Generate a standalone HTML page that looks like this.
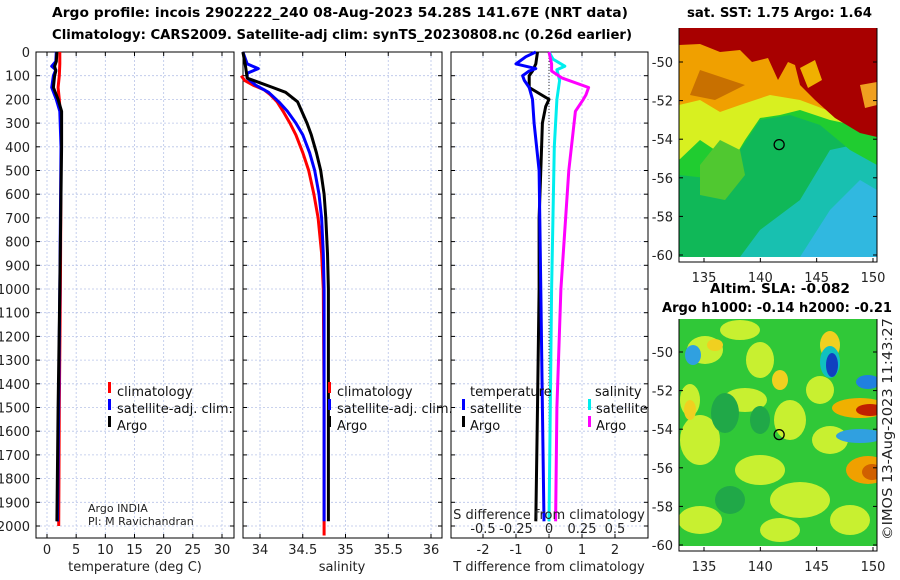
<!DOCTYPE html>
<html><head><meta charset="utf-8">
<style>
body{margin:0;background:#fff;}
svg{display:block;font-family:"DejaVu Sans","Liberation Sans",sans-serif;}
.tk{font-size:13px;fill:#222;}
.ttl{font-size:13px;font-weight:bold;fill:#000;}
.lg{font-size:13px;fill:#111;}
</style></head>
<body>
<svg id="fig" width="900" height="580" viewBox="0 0 900 580" xmlns="http://www.w3.org/2000/svg">
<text class="ttl" x="52" y="17" textLength="576" lengthAdjust="spacingAndGlyphs">Argo profile: incois 2902222_240 08-Aug-2023 54.28S 141.67E (NRT data)</text>
<text class="ttl" x="52" y="39" textLength="580" lengthAdjust="spacingAndGlyphs">Climatology: CARS2009. Satellite-adj clim: synTS_20230808.nc (0.26d earlier)</text>
<text class="ttl" x="687" y="17" textLength="185" lengthAdjust="spacingAndGlyphs">sat. SST: 1.75 Argo: 1.64</text>
<text class="ttl" x="710" y="293" textLength="140" lengthAdjust="spacingAndGlyphs">Altim. SLA: -0.082</text>
<text class="ttl" x="662" y="312" textLength="230" lengthAdjust="spacingAndGlyphs">Argo h1000: -0.14 h2000: -0.21</text>
<text class="tk" transform="translate(892,540) rotate(-90)" textLength="222" lengthAdjust="spacingAndGlyphs">©IMOS 13-Aug-2023 11:43:27</text>
<g id="maps"></g>
<g id="panels"></g>
</svg>
<script>
// ---- data ----
const depthTicks=[0,100,200,300,400,500,600,700,800,900,1000,1100,1200,1300,1400,1500,1600,1700,1800,1900,2000];
const tempTicks=[0,5,10,15,20,25,30];
const salTicks=[34,34.5,35,35.5,36];
const salTickLabels=["34","34.5","35","35.5","36"];
const tdTicks=[-2,-1,0,1,2];
const sdTicks=[-0.5,-0.25,0,0.25,0.5];
const sdTickLabels=["-0.5","-0.25","0","0.25","0.5"];

const tClimD=[0,50,100,150,200,300,500,1000,1500,2000];
const tClimV=[2.2,2.2,2.1,1.9,2.1,2.4,2.4,2.3,2.1,2.0];
const tSatD=[0,40,60,75,100,150,200,250,400,1000,1500,1980];
const tSatV=[1.6,1.5,0.8,1.5,1.1,0.8,1.6,2.2,2.4,2.2,2.0,1.8];
const tArgoD=[0,40,60,80,100,150,200,250,400,1000,1500,1980];
const tArgoV=[1.7,1.6,1.3,1.5,1.3,1.1,1.9,2.5,2.5,2.2,1.9,1.7];

const sClimD=[100,120,140,160,180,210,250,300,350,425,500,600,700,850,1000,1500,2040];
const sClimV=[33.78,33.82,33.92,34.05,34.12,34.2,34.27,34.35,34.42,34.5,34.57,34.63,34.68,34.72,34.74,34.75,34.75];
const sSatD=[0,50,70,90,110,140,170,210,250,300,350,425,500,600,700,850,1000,1500,1980];
const sSatV=[33.8,33.85,33.98,33.85,33.85,33.95,34.1,34.22,34.32,34.42,34.5,34.58,34.64,34.69,34.72,34.74,34.75,34.75,34.75];
const sArgoD=[0,60,110,130,150,170,210,260,300,350,425,500,600,700,850,1000,1500,1980];
const sArgoV=[33.8,33.83,33.85,34.0,34.15,34.3,34.44,34.5,34.55,34.6,34.66,34.71,34.75,34.77,34.79,34.8,34.8,34.8];

const dtSatD=[0,20,50,70,80,100,120,150,200,300,500,1000,1500,1980];
const dtSatV=[-0.4,-0.7,-1.0,-0.4,-0.6,-0.8,-0.75,-0.6,-0.5,-0.45,-0.3,-0.25,-0.2,-0.15];
const dtArgoD=[0,50,80,100,150,200,230,300,500,700,1000,1500,1980];
const dtArgoV=[-0.35,-0.4,-0.5,-0.6,-0.6,0.0,-0.1,-0.2,-0.25,-0.3,-0.3,-0.35,-0.4];
const dsSatD=[0,30,60,75,120,200,400,1000,1500,1980];
const dsSatV=[0.0,0.03,0.12,0.06,0.08,0.06,0.04,0.02,0.01,0.0];
const dsArgoD=[0,50,80,110,150,180,200,250,500,1000,1500,1980];
const dsArgoV=[0.0,0.02,0.02,0.1,0.3,0.28,0.26,0.2,0.15,0.09,0.06,0.05];

const mapLonTicks=[135,140,145,150];
const sstLatTicks=[-50,-52,-54,-56,-58,-60];
const slaLatTicks=[-50,-52,-54,-56,-58,-60];
const argoLon=141.67, argoLat=-54.28;

// ---- helpers ----
const NS="http://www.w3.org/2000/svg";
const panels=document.getElementById('panels');
const mapsG=document.getElementById('maps');
function mk(tag,attrs,parent){const e=document.createElementNS(NS,tag);for(const k in attrs)e.setAttribute(k,attrs[k]);(parent||panels).appendChild(e);return e;}
const top0=52,bot=538;
const yD=d=>top0+d*(526-top0)/2000;

function line(xs,ds,fx,color,name,parent){
  const pts=xs.map((v,i)=>fx(v).toFixed(1)+","+yD(ds[i]).toFixed(1)).join(" ");
  const p=mk('polyline',{points:pts,fill:'none',stroke:color,'stroke-width':3,'stroke-linejoin':'round'},parent);
  
  
}

function panel(x0,x1,ticks,labels,fx,name,showDepth){
  const g=mk('g',{});
  
  
  depthTicks.forEach(d=>{mk('line',{x1:x0,x2:x1,y1:yD(d),y2:yD(d),stroke:'#b8c4e8','stroke-width':0.8,'stroke-dasharray':'2,2'},g);
    mk('line',{x1:x0,x2:x0+4,y1:yD(d),y2:yD(d),stroke:'#000'},g);mk('line',{x1:x1-4,x2:x1,y1:yD(d),y2:yD(d),stroke:'#000'},g);
    if(showDepth){const t=mk('text',{x:x0-6,y:yD(d)+5,'text-anchor':'end',class:'tk'},g);t.textContent=d;
      
      }
  });
  ticks.forEach((v,i)=>{const x=fx(v);mk('line',{x1:x,x2:x,y1:top0,y2:bot,stroke:'#b8c4e8','stroke-width':0.8,'stroke-dasharray':'2,2'},g);
    mk('line',{x1:x,x2:x,y1:bot,y2:bot-4,stroke:'#000'},g);mk('line',{x1:x,x2:x,y1:top0,y2:top0+4,stroke:'#000'},g);
    if(labels){const t=mk('text',{x:x,y:bot+16,'text-anchor':'middle',class:'tk'},g);t.textContent=labels[i];
      
      }
  });
  mk('rect',{x:x0,y:top0,width:x1-x0,height:bot-top0,fill:'none',stroke:'#000','stroke-width':1},g);
  return g;
}
function txt(x,y,s,name,cls,anchor,parent){const t=mk('text',{x:x,y:y,class:cls||'tk','text-anchor':anchor||'start'},parent);t.textContent=s;
  
  return t;}
function lgBar(x,y,c,parent){mk('rect',{x:x,y:y-10,width:3,height:11,fill:c},parent);}

// ---- panel 1: temperature ----
const fT=v=>47+v*(222-47)/30;
const g1=panel(36,234,tempTicks,tempTicks.map(String),fT,'temperature-panel',true);
line(tClimV,tClimD,fT,'#f00','temp-climatology-line',g1);
line(tSatV,tSatD,fT,'#00f','temp-satellite-line',g1);
line(tArgoV,tArgoD,fT,'#000','temp-argo-line',g1);
txt(135,571,'temperature (deg C)','temperature-axis-title','tk','middle',g1);
lgBar(108,392,'#f00',g1);txt(117,396,'climatology','legend-climatology','lg','start',g1);
lgBar(108,409,'#00f',g1);txt(117,413,'satellite-adj. clim.','legend-satellite','lg','start',g1);
lgBar(108,426,'#000',g1);txt(117,430,'Argo','legend-argo','lg','start',g1);
txt(88,512,'Argo INDIA','argo-india-note','tk','start',g1).setAttribute('style','font-size:11px');
txt(88,525,'PI: M Ravichandran','pi-note','tk','start',g1).setAttribute('style','font-size:11px');

// ---- panel 2: salinity ----
const fS=v=>260+(v-34)*(431-260)/2;
const g2=panel(243,442,salTicks,salTickLabels,fS,'salinity-panel',false);
line(sClimV,sClimD,fS,'#f00','sal-climatology-line',g2);
line(sSatV,sSatD,fS,'#00f','sal-satellite-line',g2);
line(sArgoV,sArgoD,fS,'#000','sal-argo-line',g2);
txt(342,571,'salinity','salinity-axis-title','tk','middle',g2);
lgBar(328,392,'#f00',g2);txt(337,396,'climatology','legend-climatology','lg','start',g2);
lgBar(328,409,'#00f',g2);txt(337,413,'satellite-adj. clim.','legend-satellite','lg','start',g2);
lgBar(328,426,'#000',g2);txt(337,430,'Argo','legend-argo','lg','start',g2);

// ---- panel 3: differences ----
const fDT=v=>549+v*33;
const fDS=v=>549+v*4*33;
const g3=panel(451,648,tdTicks,tdTicks.map(String),fDT,'difference-panel',false);
mk('line',{x1:fDT(0),x2:fDT(0),y1:top0,y2:bot,stroke:'#333','stroke-dasharray':'1,2'},g3);
line(dtArgoV,dtArgoD,fDT,'#000','tdiff-argo-line',g3);
line(dtSatV,dtSatD,fDT,'#00f','tdiff-satellite-line',g3);
line(dsSatV,dsSatD,fDS,'#0ee','sdiff-satellite-line',g3);
line(dsArgoV,dsArgoD,fDS,'#f0f','sdiff-argo-line',g3);
sdTicks.forEach((v,i)=>txt(fDS(v),533,sdTickLabels[i],'s-tick-label','tk','middle',g3));
txt(549,519,'S difference from climatology','s-axis-title','tk','middle',g3);
txt(549,571,'T difference from climatology','t-axis-title','tk','middle',g3);
txt(470,396,'temperature','legend-temperature-heading','lg','start',g3);
lgBar(462,409,'#00f',g3);txt(470,413,'satellite','legend-t-satellite','lg','start',g3);
lgBar(462,426,'#000',g3);txt(470,430,'Argo','legend-t-argo','lg','start',g3);
txt(595,396,'salinity','legend-salinity-heading','lg','start',g3);
lgBar(588,409,'#0ee',g3);txt(596,413,'satellite','legend-s-satellite','lg','start',g3);
lgBar(588,426,'#f0f',g3);txt(596,430,'Argo','legend-s-argo','lg','start',g3);

// ---- maps ----
const fLon=v=>704+(v-135)*(873-704)/15;
function mapFrame(y0,y1,latTicks,fLat,name,drawFn){
  const g=mk('g',{},mapsG);
  
  
  const cid='clip'+name;
  const cp=mk('clipPath',{id:cid},g);mk('rect',{x:679,y:y0,width:198,height:y1-y0},cp);
  const inner=mk('g',{'clip-path':'url(#'+cid+')'},g);
  drawFn(inner);
  mk('circle',{cx:fLon(argoLon),cy:fLat(argoLat),r:5,fill:'none',stroke:'#000','stroke-width':1.3},g);
  mk('polyline',{points:`679,${y0} 679,${y1+5} 877,${y1+5} 877,${y0}`,fill:'none',stroke:'#000'},g);
  latTicks.forEach(v=>{const y=fLat(v);mk('line',{x1:679,x2:683,y1:y,y2:y,stroke:'#000'},g);mk('line',{x1:873,x2:877,y1:y,y2:y,stroke:'#000'},g);
    txt(673,y+5,String(v),'lat-tick-label','tk','end',g);});
  mapLonTicks.forEach(v=>{const x=fLon(v);mk('line',{x1:x,x2:x,y1:y1+5,y2:y1+1,stroke:'#000'},g);
    txt(x,y1+25,String(v),'lon-tick-label','tk','middle',g);});
}
const fLat1=v=>62+(v+50)*(255-62)/-10;
mapFrame(28,257,sstLatTicks,fLat1,'sst-map',g=>{
  mk('rect',{x:679,y:28,width:198,height:230,fill:'#10b858'},g);
  mk('polygon',{points:'740,257 760,230 800,200 830,150 877,140 877,257',fill:'#18c0b0'},g);
  mk('polygon',{points:'800,257 830,210 860,180 877,190 877,257',fill:'#30b8e0'},g);
  mk('polygon',{points:'679,28 877,28 877,165 850,150 820,125 790,115 760,120 740,150 725,180 679,175',fill:'#20cc30'},g);
  mk('polygon',{points:'679,28 877,28 877,130 830,120 800,110 780,115 760,118 745,140 730,165 715,150 700,140 679,160',fill:'#d8f020'},g);
  mk('polygon',{points:'679,28 877,28 877,125 840,115 800,100 770,95 740,105 720,112 700,100 679,105',fill:'#f0a000'},g);
  mk('polygon',{points:'690,95 715,100 745,85 700,70',fill:'#c87000'},g);
  mk('polygon',{points:'679,28 877,28 877,137 860,133 835,118 815,100 800,85 795,65 788,62 778,80 768,58 752,62 740,50 720,52 700,44 679,45',fill:'#a80000'},g);
  mk('polygon',{points:'860,85 877,82 877,105 865,108',fill:'#f0a020'},g);
  mk('polygon',{points:'800,68 815,60 822,80 808,88',fill:'#f0b000'},g);
  mk('polygon',{points:'720,140 740,150 745,175 725,200 700,195 700,165',fill:'#50c830'},g);
});
const fLat2=v=>352+(v+50)*(545-352)/-10;
mapFrame(319,546,slaLatTicks,fLat2,'sla-map',g=>{
  mk('rect',{x:679,y:319,width:198,height:228,fill:'#30c838'},g);
  [[705,350,18,14],[760,360,14,18],[745,400,22,12],[790,420,16,20],[700,440,20,25],[760,470,25,15],[830,440,18,14],[700,520,22,14],[800,500,30,18],[850,520,20,15],[740,330,20,10],[820,390,14,14],[690,400,10,16],[780,530,20,12]]
    .forEach(e=>mk('ellipse',{cx:e[0],cy:e[1],rx:e[2],ry:e[3],fill:'#c8f030'},g));
  [[715,345,8,6],[780,380,8,10],[830,345,10,14],[690,410,6,10]].forEach(e=>mk('ellipse',{cx:e[0],cy:e[1],rx:e[2],ry:e[3],fill:'#f0d020'},g));
  [[725,413,14,20],[760,420,10,14],[730,500,15,14]].forEach(e=>mk('ellipse',{cx:e[0],cy:e[1],rx:e[2],ry:e[3],fill:'#20a848'},g));
  mk('ellipse',{cx:693,cy:355,rx:8,ry:10,fill:'#30a0e0'},g);
  mk('ellipse',{cx:830,cy:362,rx:10,ry:16,fill:'#10c0c0'},g);
  mk('ellipse',{cx:832,cy:365,rx:6,ry:12,fill:'#1040c0'},g);
  mk('ellipse',{cx:868,cy:382,rx:12,ry:7,fill:'#2080e0'},g);
  mk('ellipse',{cx:860,cy:408,rx:28,ry:10,fill:'#f0b000'},g);
  mk('ellipse',{cx:870,cy:410,rx:14,ry:6,fill:'#c02000'},g);
  mk('ellipse',{cx:860,cy:436,rx:24,ry:7,fill:'#30a0e0'},g);
  mk('ellipse',{cx:868,cy:470,rx:22,ry:14,fill:'#f0a000'},g);
  mk('ellipse',{cx:872,cy:472,rx:10,ry:8,fill:'#d06000'},g);
});
</script>
</body></html>
